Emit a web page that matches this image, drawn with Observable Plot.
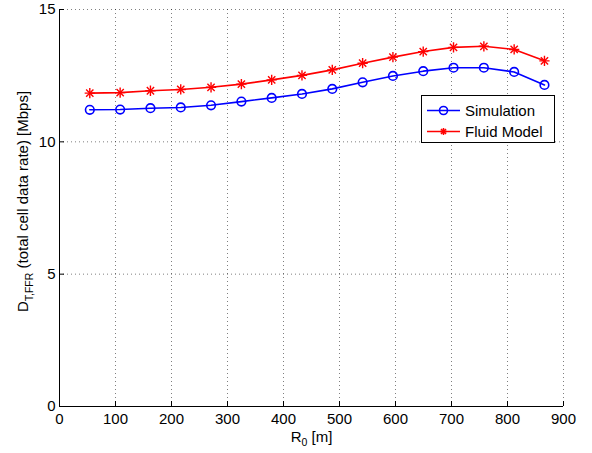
<!DOCTYPE html>
<html><head><meta charset="utf-8">
<script src="https://cdn.jsdelivr.net/npm/d3@7"></script>
<script src="https://cdn.jsdelivr.net/npm/@observablehq/plot@0.6"></script>
<style>
body{margin:0;background:#fff;}
svg{font-family:"Liberation Sans",Arial,Helvetica,sans-serif;}
</style>
</head><body><div id="chart"></div>
<script>
const R0 = [54.1, 108.3, 162.4, 216.5, 270.6, 324.8, 378.9, 433.0, 487.1, 541.3, 595.4, 649.5, 703.6, 757.8, 811.9, 866.0];
const simulation = [11.21, 11.22, 11.27, 11.30, 11.38, 11.52, 11.66, 11.81, 12.00, 12.25, 12.49, 12.67, 12.80, 12.80, 12.64, 12.15];
const fluidModel = [11.84, 11.86, 11.93, 11.98, 12.06, 12.18, 12.34, 12.51, 12.72, 12.97, 13.20, 13.41, 13.57, 13.61, 13.49, 13.06];
const xTicks = [0, 100, 200, 300, 400, 500, 600, 700, 800, 900];
const yTicks = [0, 5, 10, 15];
const seriesNames = ["Simulation", "Fluid Model"];

const sim = R0.map((r, i) => ({r, v: simulation[i]}));
const flu = R0.map((r, i) => ({r, v: fluidModel[i]}));

const W = 592, H = 453, mL = 59, mR = 29, mT = 9, mB = 47;
const blue = "#0000ff", red = "#ff0000";
const gridStyle = {stroke: "#000", strokeOpacity: 0.5, strokeDasharray: "1,3"};

const svg = Plot.plot({
  width: W, height: H,
  marginLeft: mL, marginRight: mR, marginTop: mT, marginBottom: mB,
  style: {fontFamily: "'Liberation Sans', Arial, sans-serif", fontSize: "15px", background: "#fff", color: "#000", overflow: "visible"},
  x: {domain: [0, 900]},
  y: {domain: [0, 15]},
  marks: [
    Plot.gridX(xTicks.filter(d => d > 0), gridStyle),
    Plot.gridY(yTicks.filter(d => d > 0), gridStyle),
    Plot.ruleX([0], {stroke: "#000", strokeWidth: 1}),
    Plot.ruleY([0], {stroke: "#000", strokeWidth: 1}),
    Plot.axisX(xTicks, {tickSize: -5, tickPadding: 12, label: null, fontSize: 15}),
    Plot.axisY(yTicks, {tickSize: -5, tickPadding: 9, label: null, fontSize: 15}),
    Plot.line(sim, {x: "r", y: "v", stroke: blue, strokeWidth: 1.6}),
    Plot.dot(sim, {x: "r", y: "v", stroke: blue, fill: "none", r: 4.3, strokeWidth: 1.6}),
    Plot.line(flu, {x: "r", y: "v", stroke: red, strokeWidth: 1.6}),
    Plot.dot(flu, {x: "r", y: "v", stroke: red, symbol: "plus", r: 3.4, strokeWidth: 1.4}),
    Plot.dot(flu, {x: "r", y: "v", stroke: red, symbol: "times", r: 3.4, strokeWidth: 1.4})
  ]
});
document.getElementById("chart").appendChild(svg);

const s = d3.select(svg);
// y label
const yl = s.append("text")
  .attr("transform", "translate(28,201.5) rotate(-90)")
  .attr("text-anchor", "middle")
  .attr("font-size", 15)
  .attr("fill", "#000");
yl.append("tspan").text("D");
yl.append("tspan").attr("dy", 5).attr("font-size", 10.5).text("T,FFR");
yl.append("tspan").attr("dy", -5).text(" (total cell data rate) [Mbps]");
// x label
const xl = s.append("text")
  .attr("x", 311.5).attr("y", 441.5)
  .attr("text-anchor", "middle")
  .attr("font-size", 15)
  .attr("fill", "#000");
xl.append("tspan").text("R");
xl.append("tspan").attr("dy", 4).attr("font-size", 10.5).text("0");
xl.append("tspan").attr("dy", -4).text(" [m]");

// legend
const lg = s.append("g");
lg.append("rect").attr("x", 421.5).attr("y", 95.5).attr("width", 133).attr("height", 47)
  .attr("fill", "#fff").attr("stroke", "#000").attr("stroke-width", 1);
const rows = [{name: seriesNames[0], color: blue, y: 110.5, type: "o"}, {name: seriesNames[1], color: red, y: 131.5, type: "*"}];
rows.forEach(rw => {
  lg.append("line").attr("x1", 427).attr("x2", 460).attr("y1", rw.y).attr("y2", rw.y)
    .attr("stroke", rw.color).attr("stroke-width", 1.6);
  if (rw.type === "o") {
    lg.append("circle").attr("cx", 443.5).attr("cy", rw.y).attr("r", 4).attr("fill", "none")
      .attr("stroke", rw.color).attr("stroke-width", 1.6);
  } else {
    const r = 3.5;
    const p = `M${443.5-r},${rw.y}H${443.5+r}M443.5,${rw.y-r}V${rw.y+r}M${443.5-r*0.72},${rw.y-r*0.72}L${443.5+r*0.72},${rw.y+r*0.72}M${443.5-r*0.72},${rw.y+r*0.72}L${443.5+r*0.72},${rw.y-r*0.72}`;
    lg.append("path").attr("d", p).attr("stroke", rw.color).attr("stroke-width", 1.5).attr("fill", "none");
  }
  lg.append("text").attr("x", 465).attr("y", rw.y).attr("dy", "0.35em")
    .attr("text-anchor", "start")
    .attr("font-size", 15).attr("fill", "#000").text(rw.name);
});
</script>
</body></html>
